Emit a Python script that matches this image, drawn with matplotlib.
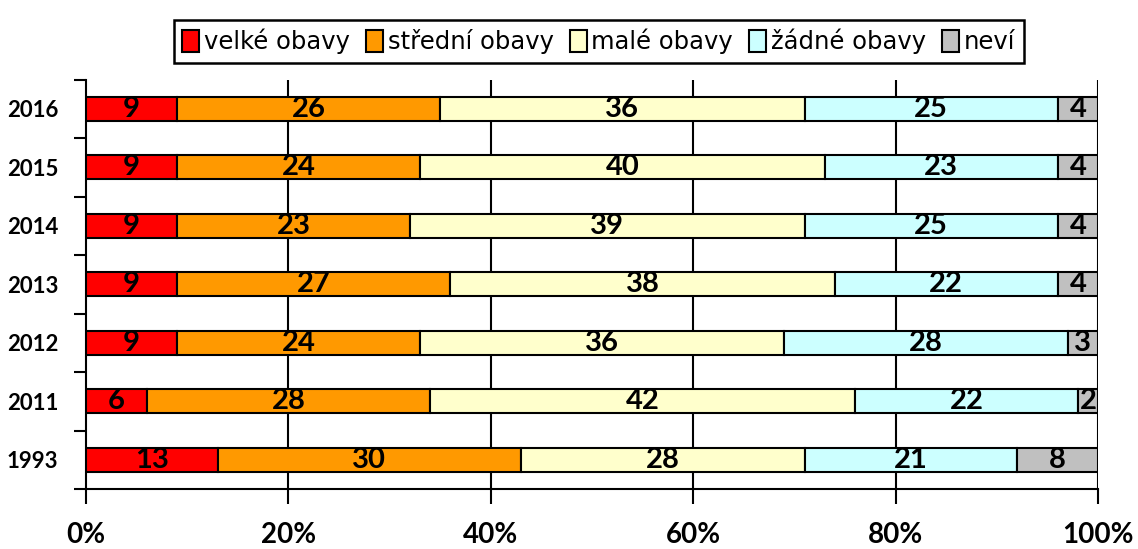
import numpy as np
import matplotlib.pyplot as plt

# survey data (percent), bottom to top
years = ["1993", "2011", "2012", "2013", "2014", "2015", "2016"]
velke = [13, 6, 9, 9, 9, 9, 9]
stredni = [30, 28, 24, 27, 23, 24, 26]
male = [28, 42, 36, 38, 39, 40, 36]
zadne = [21, 22, 28, 22, 25, 23, 25]
nevi = [8, 2, 3, 4, 4, 4, 4]

series = [velke, stredni, male, zadne, nevi]
names = ["velké obavy", "střední obavy", "malé obavy", "žádné obavy", "neví"]
colors = ["#FF0000", "#FF9900", "#FFFFCC", "#CCFFFF", "#C0C0C0"]

lab_font = ["Lato", "DejaVu Sans"]

fig = plt.figure(figsize=(11.38, 5.49), dpi=100)
ax = fig.add_axes([0.0756, 0.109, 0.8893, 0.746])

y = np.arange(len(years))
left = np.zeros(len(years))
handles = []
for vals, name, col in zip(series, names, colors):
    vals = np.array(vals)
    b = ax.barh(y, vals, left=left, height=0.41, color=col, edgecolor="black",
                linewidth=1.5, label=name, zorder=3)
    handles.append(b)
    for yi, l, v in zip(y, left, vals):
        ax.text(l + v / 2, yi, str(v), ha="center", va="center",
                fontsize=21, fontweight="bold", family=lab_font, zorder=4)
    left += vals

ax.set_xlim(0, 100)
ax.set_ylim(-0.5, len(years) - 0.5)
ax.set_xticks(range(0, 101, 20))
ax.set_xticklabels([f"{t}%" for t in range(0, 101, 20)], fontsize=20,
                   fontweight="bold", family=lab_font)
ax.set_yticks(y)
ax.set_yticklabels(years, fontsize=16, fontweight="bold", family=lab_font)
ax.set_yticks(np.arange(-0.5, len(years)), minor=True)
ax.tick_params(axis="y", which="major", length=0, pad=20)
ax.tick_params(axis="y", which="minor", length=9, width=1.5, direction="out")
ax.tick_params(axis="x", length=11, width=1.5, direction="out", pad=13)

for x in range(20, 101, 20):
    ax.axvline(x, color="black", linewidth=1.5, zorder=1)

ax.spines["top"].set_visible(False)
ax.spines["right"].set_visible(False)
ax.spines["left"].set_linewidth(1.5)
ax.spines["bottom"].set_linewidth(1.5)

leg = fig.legend(handles=handles, loc="upper center", bbox_to_anchor=(0.526, 0.985),
                 ncol=5, frameon=True, fancybox=False, edgecolor="black", framealpha=1,
                 handlelength=0.7, handleheight=1.0, handletextpad=0.2,
                 columnspacing=0.65, borderpad=0.35, prop={"family": "DejaVu Sans", "size": 17.5})
leg.get_frame().set_linewidth(1.8)

fig.savefig("out.png", dpi=100)
